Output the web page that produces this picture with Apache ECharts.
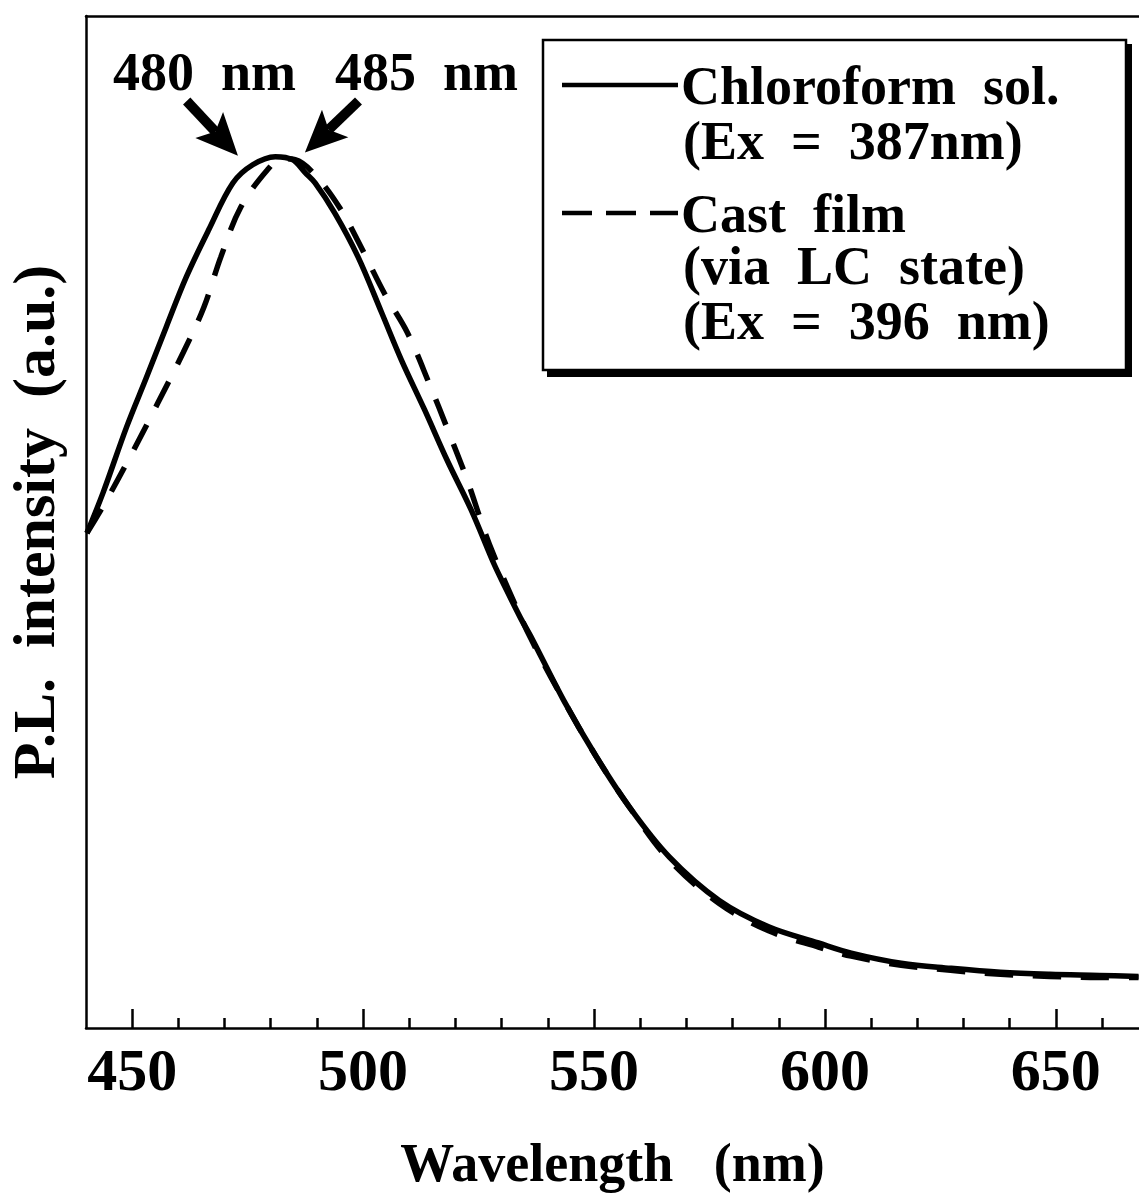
<!DOCTYPE html>
<html><head><meta charset="utf-8">
<script src="https://cdn.jsdelivr.net/npm/echarts@6/dist/echarts.min.js"></script>
<style>html,body{margin:0;padding:0;background:#fff}#c{width:1139px;height:1200px}</style>
</head><body><div id="c"></div>
<script>
// ---- data ----
const solWavelength = [440.2, 443.7, 448.8, 453.1, 457.4, 461.7, 466.6, 471.8, 476.1, 481.0, 484.7, 487.5, 489.6, 493.9, 498.9, 504.0, 508.3, 513.3, 518.2, 523.4, 528.3, 530.5, 534.1, 536.3, 543.4, 550.5, 557.7, 566.3, 577.1, 587.8, 598.6, 605.7, 616.5, 627.2, 638.0, 648.7, 659.5, 667.9];
const solIntensity  = [48.9, 52.9, 59.4, 64.3, 69.3, 74.2, 78.9, 83.5, 85.3, 86.1, 85.8, 84.5, 83.5, 80.5, 76.2, 70.7, 66.0, 61.1, 56.1, 51.2, 45.9, 43.8, 40.5, 38.7, 32.4, 26.8, 21.8, 16.9, 12.6, 10.0, 8.4, 7.4, 6.4, 5.9, 5.5, 5.3, 5.2, 5.1];
const filmWavelength = [440.2, 444.5, 450.3, 455.6, 461.0, 465.5, 469.2, 473.5, 479.3, 482.5, 485.3, 489.6, 495.0, 499.3, 504.6, 509.6, 514.3, 518.6, 522.5, 526.2, 528.3, 531.5, 536.3, 543.4, 550.5, 557.7, 566.3, 577.1, 587.8, 598.6, 605.7, 616.5, 627.2, 638.0, 648.7, 659.5, 667.9];
const filmIntensity  = [48.9, 52.2, 57.1, 61.8, 66.7, 71.2, 76.2, 81.1, 84.8, 85.9, 85.8, 84.3, 81.0, 77.4, 72.6, 68.7, 63.7, 58.8, 54.2, 49.2, 46.7, 43.3, 38.5, 32.4, 26.8, 21.8, 16.6, 12.3, 9.6, 8.0, 7.1, 6.2, 5.7, 5.3, 5.1, 5.0, 5.0];
const majorTicks = [450, 500, 550, 600, 650];
const minorTicks = [460, 470, 480, 490, 510, 520, 530, 540, 560, 570, 580, 590, 610, 620, 630, 640, 660];
const seriesNames = ['Chloroform  sol.', 'Cast  film'];
const legendSubLines = ['(Ex  =  387nm)', '(via  LC  state)', '(Ex  =  396  nm)'];
const peakLabels = ['480  nm', '485  nm'];
const xTitle = 'Wavelength   (nm)';
const yTitle = 'P.L.  intensity  (a.u.)';

const FONT = '"Liberation Serif", "Times New Roman", serif';
const zip = (a, b) => a.map((v, i) => [v, b[i]]);

const chart = echarts.init(document.getElementById('c'), null, {renderer: 'canvas'});
const axisCommon = {type: 'value', min: 440, max: 668, gridIndex: 0};
const txt = (text, x, y, size) => ({type: 'text', x: x, y: y, z: 12,
  style: {text: text, font: 'bold ' + size + 'px ' + FONT, fill: '#000', verticalAlign: 'middle'}});

chart.setOption({
  animation: false,
  backgroundColor: '#fff',
  grid: {left: 80, right: 0, top: 16, bottom: 172, containLabel: false},
  xAxis: [
    Object.assign({}, axisCommon, {
      position: 'bottom',
      name: xTitle, nameLocation: 'middle', nameGap: 112,
      nameTextStyle: {fontFamily: FONT, fontWeight: 'bold', fontSize: 54, color: '#000'},
      axisLine: {show: true, onZero: false, lineStyle: {color: '#000', width: 2.5}},
      axisTick: {show: true, inside: true, length: 19, customValues: majorTicks, lineStyle: {color: '#000', width: 2.5}},
      axisLabel: {show: true, customValues: majorTicks, margin: 16, fontFamily: FONT, fontWeight: 'bold', fontSize: 60, color: '#000'},
      splitLine: {show: false}
    }),
    Object.assign({}, axisCommon, {
      position: 'bottom',
      axisLine: {show: false},
      axisTick: {show: true, inside: true, length: 10, customValues: minorTicks, lineStyle: {color: '#000', width: 2.5}},
      axisLabel: {show: false},
      splitLine: {show: false}
    }),
    Object.assign({}, axisCommon, {
      position: 'top',
      axisLine: {show: true, onZero: false, lineStyle: {color: '#000', width: 2.5}},
      axisTick: {show: false}, axisLabel: {show: false}, splitLine: {show: false}
    })
  ],
  yAxis: {
    type: 'value', min: 0, max: 100,
    name: yTitle, nameLocation: 'middle', nameGap: 18, nameRotate: 90,
    nameTextStyle: {fontFamily: FONT, fontWeight: 'bold', fontSize: 60, color: '#000'},
    axisLine: {show: true, onZero: false, lineStyle: {color: '#000', width: 2.5}},
    axisTick: {show: false}, axisLabel: {show: false}, splitLine: {show: false}
  },
  legend: {
    left: 555, top: 55, orient: 'vertical', z: 20,
    itemWidth: 116, itemHeight: 8, itemGap: 68,
    selectedMode: false,
    textStyle: {fontFamily: FONT, fontWeight: 'bold', fontSize: 54, lineHeight: 60, color: '#000'},
    data: [
      {name: seriesNames[0], icon: 'none'},
      {name: seriesNames[1], icon: 'none'}
    ]
  },
  series: [
    {
      name: seriesNames[0], type: 'line', xAxisIndex: 0, yAxisIndex: 0,
      data: zip(solWavelength, solIntensity),
      smooth: 0.35, showSymbol: false, symbol: 'none',
      lineStyle: {color: '#000', width: 5.5, type: 'solid'},
      z: 3
    },
    {
      name: seriesNames[1], type: 'line', xAxisIndex: 0, yAxisIndex: 0,
      data: zip(filmWavelength, filmIntensity),
      smooth: 0.35, showSymbol: false, symbol: 'none',
      lineStyle: {color: '#000', width: 5.5, type: [28, 20]},
      z: 2
    }
  ]
});

// annotation arrows anchored in data space (start -> tip)
const arrowAnchors = [
  [[461.8, 91.6], [472.9, 86.2]],
  [[499.0, 91.6], [487.4, 86.5]]
];
function arrowGraphics(a) {
  const p0 = chart.convertToPixel({xAxisIndex: 0, yAxisIndex: 0}, a[0]);
  const p1 = chart.convertToPixel({xAxisIndex: 0, yAxisIndex: 0}, a[1]);
  const dx = p1[0] - p0[0], dy = p1[1] - p0[1];
  const len = Math.sqrt(dx * dx + dy * dy);
  const ux = dx / len, uy = dy / len, nx = -uy, ny = ux;
  const L = 42, W = 19, notch = 9;
  const bx = p1[0] - ux * L, by = p1[1] - uy * L;
  const head = [
    [p1[0], p1[1]],
    [bx + nx * W, by + ny * W],
    [bx + ux * notch, by + uy * notch],
    [bx - nx * W, by - ny * W]
  ];
  return [
    {type: 'line', z: 12, shape: {x1: p0[0], y1: p0[1], x2: bx + ux * notch, y2: by + uy * notch},
     style: {stroke: '#000', lineWidth: 10, lineCap: 'butt'}},
    {type: 'polygon', z: 12, shape: {points: head}, style: {fill: '#000'}}
  ];
}

const graphics = [
  // legend frame with drop shadow
  {type: 'rect', shape: {x: 547, y: 44, width: 585, height: 333}, style: {fill: '#000'}, z: 10},
  {type: 'rect', shape: {x: 543, y: 40, width: 583, height: 330}, style: {fill: '#fff', stroke: '#000', lineWidth: 2.5}, z: 11},
  {type: 'line', shape: {x1: 562, y1: 85, x2: 678, y2: 85}, style: {stroke: '#000', lineWidth: 4.5}, z: 12},
  {type: 'line', shape: {x1: 562, y1: 213, x2: 678, y2: 213}, style: {stroke: '#000', lineWidth: 4.5, lineDash: [30, 14]}, z: 12},
  txt(legendSubLines[0], 683, 145, 54),
  txt(legendSubLines[1], 683, 270, 54),
  txt(legendSubLines[2], 683, 325, 54),
  txt(peakLabels[0], 113, 76, 54),
  txt(peakLabels[1], 335, 76, 54)
];
arrowAnchors.forEach(a => arrowGraphics(a).forEach(g => graphics.push(g)));
chart.setOption({graphic: graphics});
</script></body></html>
